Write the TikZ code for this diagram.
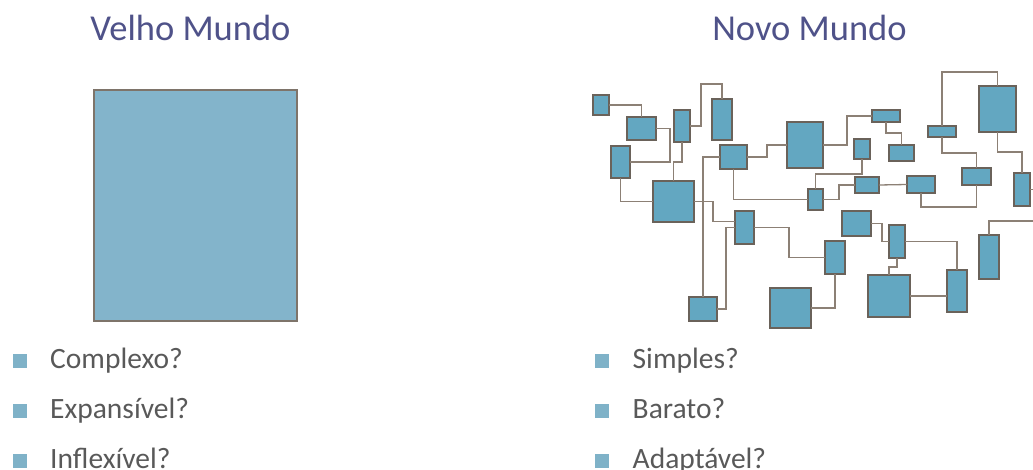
\documentclass[tikz,border=0pt]{standalone}
\usepackage{fontspec}
\setmainfont{Carlito}
\definecolor{ttl}{RGB}{79,82,137}
\definecolor{txt}{RGB}{89,89,89}
\definecolor{bigfill}{RGB}{131,180,203}
\definecolor{bigbord}{RGB}{126,116,106}
\definecolor{boxc}{RGB}{99,167,193}
\definecolor{bordc}{RGB}{106,98,90}
\definecolor{linec}{RGB}{140,128,117}
\definecolor{bul}{RGB}{127,178,200}
\newcommand\netbox[5]{\node[nb, minimum width={(#4-#2)*1pt}, minimum height={(#5-#3)*1pt}] (#1) at ({(#2+#4)/2},{(#3+#5)/2}) {};}
\newcommand\bulitem[4]{%
  \node[bulsq] (#1sq) at (#2,{#3-7}) {};
  \node[itemtxt] (#1) at ({#2+30.5},#3) {#4};}
\begin{document}
\begin{tikzpicture}[x=1pt,y=-1pt,
  nb/.style={draw=bordc, fill=boxc, line width=1.3pt, inner sep=0pt, outer sep=0pt},
  ln/.style={draw=linec, line width=1.3pt},
  bigbox/.style={draw=bigbord, fill=bigfill, line width=2pt, inner sep=0pt, minimum width=203pt, minimum height=231pt},
  title/.style={text=ttl, font=\fontsize{36.5}{40}\selectfont, anchor=base, inner sep=0pt},
  itemtxt/.style={text=txt, font=\fontsize{29.5}{32}\selectfont, anchor=base west, inner sep=0pt},
  bulsq/.style={fill=bul, minimum size=14pt, inner sep=0pt}]
\useasboundingbox (0,0) rectangle (1033,470);

% titles
\node[title] (t1) at (190.5,41) {Velho Mundo};
\node[title] (t2) at (809.5,41) {Novo Mundo};

% old world
\node[bigbox] (big) at (195.5,205.5) {};

% bullets
\bulitem{l1}{19.5}{368}{Complexo?}
\bulitem{l2}{19.5}{418}{Expansível?}
\bulitem{l3}{19.5}{468}{Inflexível?}
\bulitem{r1}{602}{368}{Simples?}
\bulitem{r2}{602}{418}{Barato?}
\bulitem{r3}{602}{468}{Adaptável?}

% new world boxes
\netbox{A}{593}{95}{609}{115}
\netbox{B}{627}{117}{656}{140}
\netbox{C}{674}{110}{690}{142}
\netbox{D}{712}{99}{732}{140}
\netbox{E}{611}{146}{630}{178}
\netbox{F}{720}{145}{747}{169}
\netbox{G}{787}{122}{823}{168}
\netbox{H}{653}{181}{694}{222}
\netbox{I}{689}{297}{717}{321}
\netbox{J}{808}{189}{823}{210}
\netbox{L}{735}{211}{754}{244}
\netbox{M}{825}{241}{845}{274}
\netbox{N}{770}{288}{811}{328}
\netbox{O}{842}{211}{871}{236}
\netbox{P}{889}{225}{905}{258}
\netbox{Q}{868}{275}{910}{317}
\netbox{R}{947}{270}{967}{312}
\netbox{S}{979}{235}{999}{279}
\netbox{T}{872}{110}{900}{122}
\netbox{U}{854}{139}{870}{159}
\netbox{V}{889}{145}{914}{161}
\netbox{W}{928}{126}{956}{137}
\netbox{X}{979}{86}{1016}{132}
\netbox{Y}{962}{168}{991}{185}
\netbox{Z}{1014}{173}{1030}{206}
\netbox{AA}{855}{177}{879}{193}
\netbox{BB}{907}{176}{935}{193}

\coordinate (edge1) at (1033,189.5);
\coordinate (edge2) at (1033,221);

% connectors
\draw[ln] (A.east) -| (B.north);
\draw[ln] (B.east) -| (670,162) -- (E.east);
\draw[ln] (C.south) -- (682,162) -| (H.north);
\draw[ln] (C.east) -| (701,84) -| (D.north);
\draw[ln] (F.west) -| (I.north);
\draw[ln] (F.south) |- (J.west);
\draw[ln] (F.east) -| (767,145) -- (G.west);
\draw[ln] (E.south) |- (H.west);
\draw[ln] (H.east) -| (713,221.5) -- ([yshift=6pt]L.west);
\draw[ln] (L.west) -| (726,309) -- (I.east);
\draw[ln] (L.east) -| (789,257.5) -- (M.west);
\draw[ln] (M.south) |- (N.east);
\draw[ln] (G.east) -| (847,116) -- (T.west);
\draw[ln] (T.south) |- (901.5,133) -- (V.north);
\draw[ln] (U.south) |- (815.5,174) -- (J.north);
\draw[ln] (J.east) -| (839,185) -- (AA.west);
\draw[ln] (AA.east) -- (BB.west);
\draw[ln] (BB.south) |- (976.5,207) -- (Y.south);
\draw[ln] (W.north) |- (997.5,72) -- (X.north);
\draw[ln] (W.south) |- (976.5,153) -- (Y.north);
\draw[ln] (X.south) |- (1022,152) -- (Z.north);
\draw[ln] (Z.east) -- (edge1);
\draw[ln] (O.east) -| (882,241.5) -- (P.west);
\draw[ln] (P.south) |- (889,267) -- (Q.north);
\draw[ln] (P.east) -| (R.north);
\draw[ln] (Q.east) -- (Q.east -| R.west);
\draw[ln] (S.north) |- (edge2);
\end{tikzpicture}
\end{document}
